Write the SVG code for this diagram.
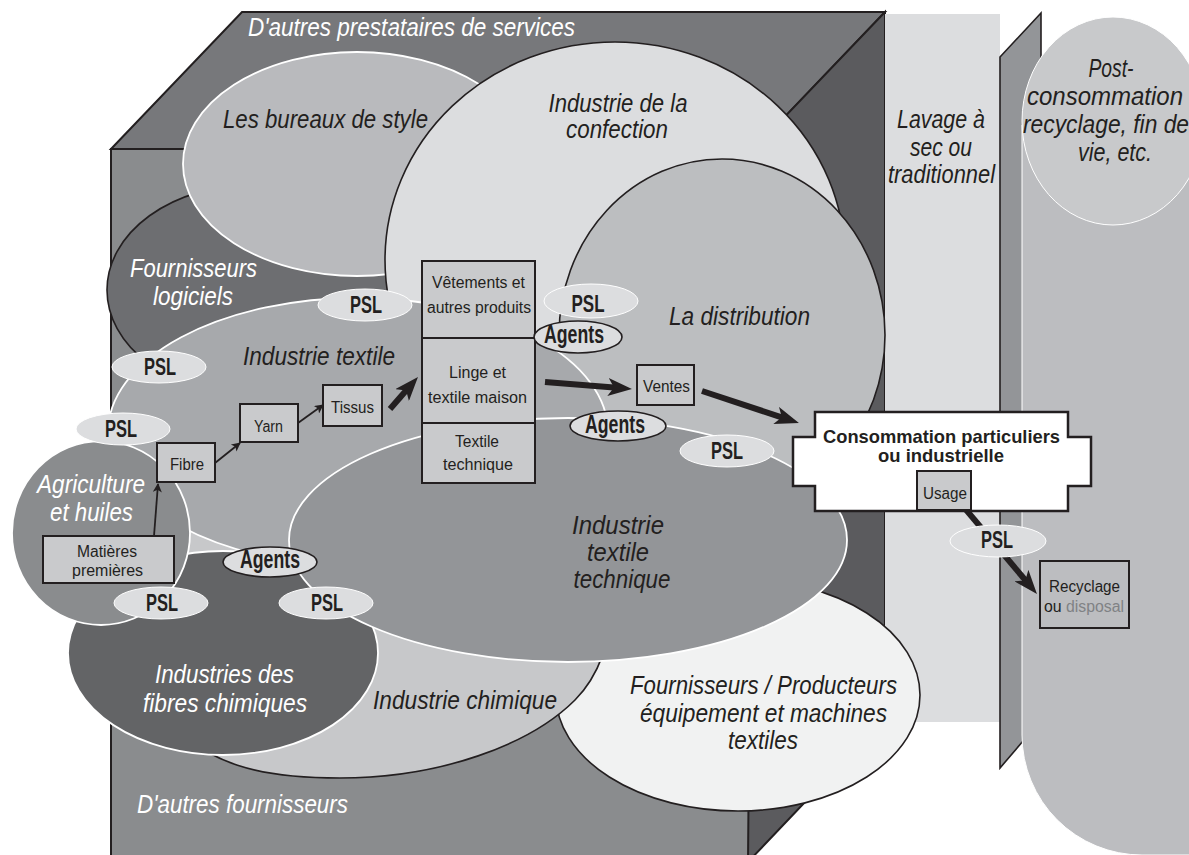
<svg xmlns="http://www.w3.org/2000/svg" width="1189" height="855" viewBox="0 0 1189 855">
<style>
.t{font-family:"Liberation Sans",Arial,sans-serif;fill:#231f20;text-anchor:middle}
.it{font-style:italic;font-size:25px}
.w{fill:#ffffff}
.bx{font-size:16px}
.b{font-weight:bold}
.psl{font-weight:bold;font-size:23px}
.ag{font-weight:bold;font-size:25px}
.ps{fill:#dcdddf;stroke:#ffffff;stroke-width:1}
.agE{fill:#dcdddf;stroke:#231f20;stroke-width:1.6}
.sb{fill:#c9cacc;stroke:#231f20;stroke-width:2}
.wl{stroke:#ffffff;stroke-width:1.8}
.kl{stroke:#231f20;stroke-width:1.6}
.thin{stroke:#231f20;stroke-width:1.8;fill:none}
.thick{stroke:#231f20;stroke-width:6;fill:none}
</style>
<defs>
<marker id="ah" viewBox="0 0 10 10" refX="9" refY="5" markerWidth="11" markerHeight="9" markerUnits="userSpaceOnUse" orient="auto"><path d="M0,0 L10,5 L0,10 L2.5,5 z" fill="#231f20"/></marker>
<marker id="ahb" viewBox="0 0 24 18" refX="9" refY="9" markerWidth="24" markerHeight="18" markerUnits="userSpaceOnUse" orient="auto"><path d="M0,0 L24,9 L0,18 L6,9 z" fill="#231f20"/></marker>
</defs>

<g id="cube">
<rect x="111" y="149" width="643" height="720" fill="#8a8c8e" stroke="#231f20" stroke-width="2"/>
<polygon points="111,149 242,12 885,12 754,149" fill="#77787b" stroke="#231f20" stroke-width="2"/>
<polygon points="754,149 885,12 885,718 748,862" fill="#5b5b5e" stroke="#231f20" stroke-width="2"/>
<text class="t it w" x="411.5" y="36" textLength="327" lengthAdjust="spacingAndGlyphs">D'autres prestataires de services</text>
<text class="t it w" x="242.5" y="813" textLength="211" lengthAdjust="spacingAndGlyphs">D'autres fournisseurs</text>
</g>

<g id="lavage">
<rect x="885" y="14" width="115" height="708" fill="#dcdddf"/>
<text class="t it" x="941" y="128" textLength="88" lengthAdjust="spacingAndGlyphs">Lavage à</text>
<text class="t it" x="941" y="156" textLength="62" lengthAdjust="spacingAndGlyphs">sec ou</text>
<text class="t it" x="941.5" y="183" textLength="107" lengthAdjust="spacingAndGlyphs">traditionnel</text>
</g>
<g id="strip">
<polygon points="1000,57 1041,13 1041,720 1000,768" fill="#939598" stroke="#231f20" stroke-width="1.6"/>
</g>
<g id="postconso">
<path d="M1022,125 V735 A120,120 0 0 0 1142,855 H1200 V100 Z" fill="#bcbdc0" stroke="#ffffff" stroke-width="1"/>
<ellipse cx="1113" cy="121" rx="91" ry="104" fill="#c8c9cb" stroke="#ffffff" stroke-width="1"/>
<text class="t it" x="1111" y="77" textLength="45" lengthAdjust="spacingAndGlyphs">Post-</text>
<text class="t it" x="1105" y="105" textLength="156" lengthAdjust="spacingAndGlyphs">consommation</text>
<text class="t it" x="1023" y="133" style="text-anchor:start" textLength="166" lengthAdjust="spacingAndGlyphs">recyclage, fin de</text>
<text class="t it" x="1115" y="161" textLength="74" lengthAdjust="spacingAndGlyphs">vie, etc.</text>
</g>

<g id="logiciels">
<ellipse cx="252" cy="290" rx="145" ry="105" fill="#6d6e71" class="kl"/>
<text class="t it w" x="193.5" y="277" textLength="127" lengthAdjust="spacingAndGlyphs">Fournisseurs</text>
<text class="t it w" x="193" y="305" textLength="80" lengthAdjust="spacingAndGlyphs">logiciels</text>
</g>
<g id="bureaux">
<ellipse cx="357" cy="164" rx="174" ry="112" fill="#b9babd" class="wl"/>
<text class="t it" x="325.5" y="128" textLength="205" lengthAdjust="spacingAndGlyphs">Les bureaux de style</text>
</g>
<g id="confection">
<ellipse cx="615" cy="260" rx="230" ry="218" fill="#dcdddf" class="kl"/>
<text class="t it" x="618" y="112" textLength="139" lengthAdjust="spacingAndGlyphs">Industrie de la</text>
<text class="t it" x="617" y="138" textLength="102" lengthAdjust="spacingAndGlyphs">confection</text>
</g>
<g id="distribution">
<ellipse cx="722" cy="335" rx="163" ry="176" fill="#bcbec0" class="kl"/>
<text class="t it" x="739.5" y="325" textLength="141" lengthAdjust="spacingAndGlyphs">La distribution</text>
</g>
<g id="equipement">
<ellipse cx="738" cy="695" rx="182" ry="116" fill="#f1f2f2" class="kl"/>
<text class="t it" x="763.5" y="694" textLength="267" lengthAdjust="spacingAndGlyphs">Fournisseurs / Producteurs</text>
<text class="t it" x="763.5" y="722" textLength="247" lengthAdjust="spacingAndGlyphs">équipement et machines</text>
<text class="t it" x="763" y="749" textLength="70" lengthAdjust="spacingAndGlyphs">textiles</text>
</g>
<g id="chimique">
<path d="M175,470 L150,700 C200,770 270,778 340,778 C440,778 530,745 575,700 C600,675 610,640 615,600 L600,460 Z" fill="#c7c8ca" class="kl"/>
<text class="t it" x="465" y="709" textLength="184" lengthAdjust="spacingAndGlyphs">Industrie chimique</text>
</g>
<g id="textile">
<ellipse cx="358" cy="432" rx="250" ry="134" fill="#a7a9ac" class="wl"/>
<text class="t it" x="319" y="365" textLength="152" lengthAdjust="spacingAndGlyphs">Industrie textile</text>
</g>
<g id="fibres">
<ellipse cx="223" cy="653" rx="155" ry="102" fill="#636466" class="wl"/>
<text class="t it w" x="224.5" y="683" textLength="139" lengthAdjust="spacingAndGlyphs">Industries des</text>
<text class="t it w" x="225" y="712" textLength="164" lengthAdjust="spacingAndGlyphs">fibres chimiques</text>
</g>
<g id="agriculture">
<ellipse cx="101" cy="533" rx="89" ry="92" fill="#8a8c8e" class="wl"/>
<text class="t it w" x="91" y="493" textLength="108" lengthAdjust="spacingAndGlyphs">Agriculture</text>
<text class="t it w" x="91.5" y="521" textLength="83" lengthAdjust="spacingAndGlyphs">et huiles</text>
</g>
<g id="technique">
<ellipse cx="568" cy="540" rx="279" ry="122" fill="#939598" class="wl"/>
<text class="t it" x="618" y="534" textLength="92" lengthAdjust="spacingAndGlyphs">Industrie</text>
<text class="t it" x="618" y="561" textLength="62" lengthAdjust="spacingAndGlyphs">textile</text>
<text class="t it" x="622" y="588" textLength="97" lengthAdjust="spacingAndGlyphs">technique</text>
</g>

<g id="connectors">
<line class="thin" x1="154" y1="536" x2="158" y2="484" marker-end="url(#ah)"/>
<line class="thin" x1="215" y1="463" x2="240" y2="443" marker-end="url(#ah)"/>
<line class="thin" x1="298" y1="423" x2="323" y2="405" marker-end="url(#ah)"/>
<line class="thick" x1="390" y1="409" x2="408.1" y2="388.3" marker-end="url(#ahb)"/>
<line class="thick" x1="545" y1="382" x2="617" y2="387.8" marker-end="url(#ahb)"/>
<line class="thick" x1="702" y1="391" x2="784.7" y2="418.3" marker-end="url(#ahb)"/>
<line class="thick" x1="962" y1="505" x2="1027.3" y2="582.5" marker-end="url(#ahb)"/>
</g>

<g id="matieres">
<rect x="43" y="536" width="131" height="47" class="sb"/>
<text class="t bx" x="107" y="557" textLength="60" lengthAdjust="spacingAndGlyphs">Matières</text>
<text class="t bx" x="107.5" y="576" textLength="71" lengthAdjust="spacingAndGlyphs">premières</text>
</g>
<g id="fibre">
<rect x="157" y="443" width="58" height="39" class="sb"/>
<text class="t bx" x="187" y="470" textLength="34" lengthAdjust="spacingAndGlyphs">Fibre</text>
</g>
<g id="yarn">
<rect x="240" y="404" width="58" height="38" class="sb"/>
<text class="t bx" x="268.5" y="432" textLength="29" lengthAdjust="spacingAndGlyphs">Yarn</text>
</g>
<g id="tissus">
<rect x="323" y="385" width="59" height="41" class="sb"/>
<text class="t bx" x="352.5" y="413" textLength="43" lengthAdjust="spacingAndGlyphs">Tissus</text>
</g>
<g id="produits">
<rect x="422" y="261" width="113" height="77" class="sb"/>
<rect x="422" y="338" width="113" height="85" class="sb"/>
<rect x="422" y="423" width="113" height="60" class="sb"/>
<text class="t bx" x="478.5" y="288" textLength="93" lengthAdjust="spacingAndGlyphs">Vêtements et</text>
<text class="t bx" x="479" y="313" textLength="104" lengthAdjust="spacingAndGlyphs">autres produits</text>
<text class="t bx" x="477.5" y="378" textLength="57" lengthAdjust="spacingAndGlyphs">Linge et</text>
<text class="t bx" x="477.5" y="403" textLength="99" lengthAdjust="spacingAndGlyphs">textile maison</text>
<text class="t bx" x="477" y="447" textLength="44" lengthAdjust="spacingAndGlyphs">Textile</text>
<text class="t bx" x="478" y="470" textLength="70" lengthAdjust="spacingAndGlyphs">technique</text>
</g>
<g id="ventes">
<rect x="637" y="365" width="57" height="40" class="sb"/>
<text class="t bx" x="666.5" y="392" textLength="47" lengthAdjust="spacingAndGlyphs">Ventes</text>
</g>
<g id="consommation">
<path d="M815,412 H1068 V437 H1091 V486 H1068 V511 H815 V486 H793 V437 H815 Z" fill="#ffffff" stroke="#231f20" stroke-width="2.5"/>
<text class="t b" style="font-size:19px" x="941.5" y="443" textLength="237" lengthAdjust="spacingAndGlyphs">Consommation particuliers</text>
<text class="t b" style="font-size:19px" x="941" y="462" textLength="126" lengthAdjust="spacingAndGlyphs">ou industrielle</text>
</g>
<g id="usage">
<rect x="917" y="471" width="54" height="39" class="sb"/>
<text class="t bx" x="945" y="499" textLength="44" lengthAdjust="spacingAndGlyphs">Usage</text>
</g>
<g id="recyclage">
<rect x="1040" y="561" width="89" height="67" fill="#bcbdc0" stroke="#231f20" stroke-width="2"/>
<text class="t bx" x="1084.5" y="592" textLength="71" lengthAdjust="spacingAndGlyphs">Recyclage</text>
<text class="t bx" x="1084" y="612" textLength="80" lengthAdjust="spacingAndGlyphs">ou <tspan fill="#808285">disposal</tspan></text>
</g>

<g id="psl1"><ellipse cx="365" cy="305" rx="47" ry="16" class="ps"/><text class="t psl" x="366" y="313" textLength="32" lengthAdjust="spacingAndGlyphs">PSL</text></g>
<g id="psl2"><ellipse cx="159" cy="367" rx="47" ry="16" class="ps"/><text class="t psl" x="160" y="375" textLength="32" lengthAdjust="spacingAndGlyphs">PSL</text></g>
<g id="psl3"><ellipse cx="123" cy="429" rx="47" ry="16" class="ps"/><text class="t psl" x="121" y="437" textLength="32" lengthAdjust="spacingAndGlyphs">PSL</text></g>
<g id="psl4"><ellipse cx="161" cy="603" rx="47" ry="16" class="ps"/><text class="t psl" x="162" y="611" textLength="32" lengthAdjust="spacingAndGlyphs">PSL</text></g>
<g id="psl5"><ellipse cx="326" cy="603" rx="47" ry="16" class="ps"/><text class="t psl" x="327" y="611" textLength="32" lengthAdjust="spacingAndGlyphs">PSL</text></g>
<g id="psl6"><ellipse cx="591" cy="301" rx="47" ry="17" class="ps"/><text class="t psl" x="588" y="312" textLength="33" lengthAdjust="spacingAndGlyphs">PSL</text></g>
<g id="psl7"><ellipse cx="727" cy="451" rx="47" ry="16" class="ps"/><text class="t psl" x="727" y="459" textLength="32" lengthAdjust="spacingAndGlyphs">PSL</text></g>
<g id="psl8"><ellipse cx="998" cy="541" rx="48" ry="16" class="ps"/><text class="t psl" x="997" y="548" textLength="32" lengthAdjust="spacingAndGlyphs">PSL</text></g>
<g id="agents1"><ellipse cx="578" cy="337" rx="44" ry="16" class="agE"/><text class="t ag" x="574" y="343" textLength="60" lengthAdjust="spacingAndGlyphs">Agents</text></g>
<g id="agents2"><ellipse cx="618" cy="426" rx="48" ry="15" class="agE"/><text class="t ag" x="615" y="433" textLength="60" lengthAdjust="spacingAndGlyphs">Agents</text></g>
<g id="agents3"><ellipse cx="270" cy="562" rx="47" ry="15" class="agE"/><text class="t ag" x="270" y="568" textLength="60" lengthAdjust="spacingAndGlyphs">Agents</text></g>
</svg>
